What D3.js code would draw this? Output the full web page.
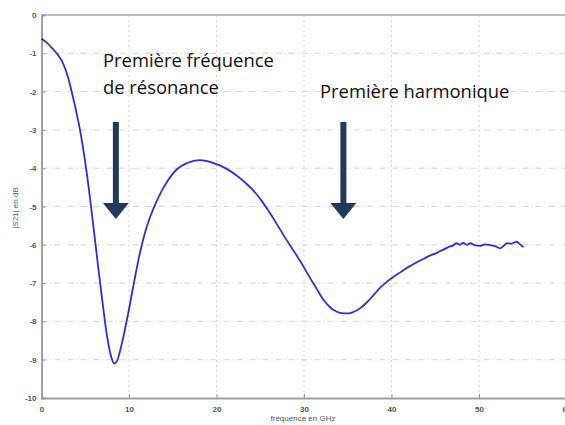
<!DOCTYPE html>
<html><head><meta charset="utf-8">
<script src="https://cdn.jsdelivr.net/npm/d3@7/dist/d3.min.js"></script>
<style>body{margin:0;background:#fff;}svg{display:block;}</style>
</head><body>
<script>
const freqGHz = [0,0.6,1.35,2.0,2.5,3.0,3.5,4.0,4.4,5.0,5.5,6.0,6.5,7.0,7.5,8.0,8.3,8.6,9.16,9.9,10.6,11.26,12.0,12.8,13.6,14.5,15.5,16.6,17.4,18.1,18.8,19.6,20.5,21.4,22.3,23.3,24.2,25.0,25.9,26.9,27.8,28.8,29.9,30.7,31.45,32.2,32.97,33.7,34.5,35.1,35.6,36.4,37.2,38.0,38.7,39.5,40.2,41.0,41.7,42.4,43.1,43.8,44.5,45.0,45.5,46.0,46.5,47.0,47.45,47.8,48.2,48.6,49.0,49.5,50.1,50.7,51.3,51.9,52.4,52.8,53.2,53.7,54.0,54.3,54.6,54.9,55.1];
const s21dB = [-0.62,-0.72,-0.9,-1.08,-1.28,-1.6,-2.05,-2.55,-3.0,-3.85,-4.7,-5.65,-6.62,-7.55,-8.4,-8.95,-9.1,-9.05,-8.6,-7.8,-6.95,-6.2,-5.55,-5.05,-4.65,-4.3,-4.02,-3.87,-3.81,-3.79,-3.81,-3.86,-3.94,-4.05,-4.19,-4.38,-4.58,-4.8,-5.1,-5.46,-5.8,-6.15,-6.55,-6.87,-7.15,-7.43,-7.63,-7.74,-7.79,-7.79,-7.76,-7.66,-7.5,-7.3,-7.12,-6.96,-6.84,-6.72,-6.61,-6.52,-6.43,-6.35,-6.27,-6.23,-6.17,-6.12,-6.06,-6.02,-5.96,-6.0,-5.95,-6.0,-5.96,-6.01,-6.03,-5.99,-6.01,-6.04,-6.09,-6.03,-5.96,-5.97,-5.94,-5.92,-5.97,-6.03,-6.06];
const xTicks = [0,10,20,30,40,50,60];
const yTicks = [0,-1,-2,-3,-4,-5,-6,-7,-8,-9,-10];
const annotations = [
  {lines:["Première fréquence","de résonance"], x:103, y:67, arrowX:8.5},
  {lines:["Première harmonique"], x:320, y:98, arrowX:34.5}
];

const W=565,H=425;
const svg=d3.select("body").append("svg").attr("width",W).attr("height",H);
const m={l:41.5,t:15,r:566.5,b:398};
const x=d3.scaleLinear().domain([0,60]).range([m.l,m.r]);
const y=d3.scaleLinear().domain([-10,0]).range([m.b,m.t]);

// grid
const g=svg.append("g");
g.selectAll(".gx").data(xTicks.slice(1,-1)).enter().append("line")
 .attr("x1",d=>x(d)).attr("x2",d=>x(d)).attr("y1",m.t).attr("y2",m.b)
 .attr("stroke","#d4d4d4").attr("stroke-width",1).attr("stroke-dasharray","2,3");
g.selectAll(".gy").data(yTicks.slice(1,-1)).enter().append("line")
 .attr("x1",m.l).attr("x2",W).attr("y1",d=>y(d)).attr("y2",d=>y(d))
 .attr("stroke","#d4d4d4").attr("stroke-width",1).attr("stroke-dasharray","6,3,1,3");

// frame
svg.append("line").attr("x1",m.l).attr("x2",W).attr("y1",m.t).attr("y2",m.t).attr("stroke","#a8a8a8").attr("stroke-width",1.5);

// axes
const xAxis=svg.append("g").attr("transform",`translate(0,${m.b})`)
 .call(d3.axisBottom(x).tickValues(xTicks).tickSize(-4).tickPadding(8).tickFormat(d3.format("d")));
const yAxis=svg.append("g").attr("transform",`translate(${m.l},0)`)
 .call(d3.axisLeft(y).tickValues(yTicks).tickSize(-4).tickPadding(5).tickFormat(d=>d));
[xAxis,yAxis].forEach(a=>{
  a.select(".domain").attr("stroke","#a0a0a0").attr("stroke-width",2);
  a.selectAll(".tick line").attr("stroke","#999");
  a.selectAll("text").attr("fill","#555").style("font-family","Liberation Sans, Arial, sans-serif")
   .style("font-size","8px").style("font-weight","bold");
});

// labels
svg.append("text").attr("x",303).attr("y",421).attr("text-anchor","middle")
 .style("font-family","Liberation Sans, Arial, sans-serif").style("font-size","8px").attr("fill","#555").text("fréquence en GHz");
svg.append("text").attr("transform","translate(18,208) rotate(-90)").attr("text-anchor","middle")
 .style("font-family","Liberation Sans, Arial, sans-serif").style("font-size","8px").attr("fill","#555").text("|S21| en dB");

// curve
const line=d3.line().x((d,i)=>x(freqGHz[i])).y(d=>y(d)).curve(d3.curveMonotoneX);
svg.append("path").datum(s21dB).attr("d",line).attr("fill","none")
 .attr("stroke","#3030d0").attr("stroke-width",1.8).attr("stroke-linejoin","round");

// annotations
const arrowTop=122, headTop=203, tip=219, half=13, shaftHalf=3;
annotations.forEach(a=>{
  const t=svg.append("text").attr("x",a.x).attr("y",a.y)
    .style("font-family","Open Sans, sans-serif").style("font-size","18.4px").attr("fill","#111");
  a.lines.forEach((l,i)=>t.append("tspan").attr("x",a.x).attr("dy",i?27:0).text(l));
  const cx=x(a.arrowX);
  svg.append("path").attr("fill","#203a5c")
   .attr("d",`M${cx-shaftHalf},${arrowTop}H${cx+shaftHalf}V${headTop}H${cx+half}L${cx},${tip}L${cx-half},${headTop}H${cx-shaftHalf}Z`);
});
</script>
</body></html>
